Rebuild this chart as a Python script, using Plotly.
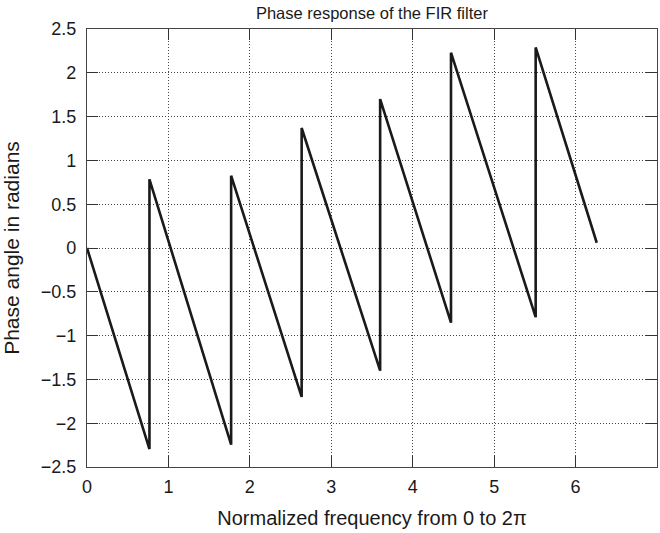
import plotly.graph_objects as go

# Vertices of the phase curve
freq = [0.0, 0.767, 0.767, 1.77, 1.77, 2.636, 2.636, 3.60, 3.60, 4.47, 4.47, 5.51, 5.51, 6.26]
phase = [0.0, -2.295, 0.784, -2.245, 0.825, -1.70, 1.37, -1.40, 1.70, -0.853, 2.23, -0.79, 2.29, 0.06]

x_ticks = [0, 1, 2, 3, 4, 5, 6, 7]
y_ticks = [2.5, 2, 1.5, 1, 0.5, 0, -0.5, -1, -1.5, -2, -2.5]
y_ticktext = ["2.5", "2", "1.5", "1", "0.5", "0", "\u22120.5", "\u22121", "\u22121.5", "\u22122", "\u22122.5"]

font_family = "Liberation Sans, Arial, Helvetica, sans-serif"
txt = "#1a1a1a"

fig = go.Figure()
fig.add_trace(go.Scatter(
    x=freq, y=phase, mode="lines",
    line=dict(color="#1a1a1a", width=2.6),
    showlegend=False,
))

axis_common = dict(
    showline=True, linecolor="#444444", linewidth=1.2, mirror="ticks",
    ticks="inside", ticklen=11, tickwidth=1.2, tickcolor="#333333",
    showgrid=True, gridcolor="#444444", griddash="1px,2px", gridwidth=1,
    zeroline=False, automargin=False,
    tickfont=dict(family=font_family, size=18, color=txt),
)

fig.update_layout(
    width=660, height=533,
    margin=dict(l=87, r=3, t=29, b=66),
    paper_bgcolor="white", plot_bgcolor="white",
    title=dict(text="Phase response of the FIR filter", x=0.5635, xanchor="center",
               y=0.976, yanchor="middle",
               font=dict(family=font_family, size=16.5, color=txt)),
    xaxis=dict(range=[0, 7], tickvals=x_ticks, ticklabelstandoff=3,
               title=dict(text="Normalized frequency from 0 to 2\u03c0", standoff=15,
                          font=dict(family=font_family, size=20, color=txt)),
               **axis_common),
    yaxis=dict(range=[-2.5, 2.5], tickvals=y_ticks, ticktext=y_ticktext,
               ticklabelstandoff=6,
               title=dict(text="Phase angle in radians", standoff=16,
                          font=dict(family=font_family, size=21, color=txt)),
               **axis_common),
)

fig.write_html("out.html", config={"displayModeBar": False},
               post_script="document.body.style.margin='0px';document.body.style.padding='0px';")
